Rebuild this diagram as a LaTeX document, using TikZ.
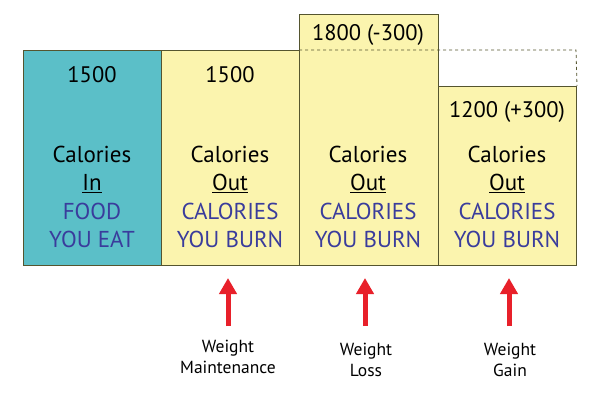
\documentclass[tikz,border=0pt]{standalone}
\usepackage{fontspec}
\setmainfont{PT Sans}
\usetikzlibrary{arrows.meta}
\definecolor{teal1}{HTML}{5BBFC8}
\definecolor{yel}{HTML}{FBF4AE}
\definecolor{edge}{HTML}{55552F}
\definecolor{blu}{HTML}{3A3C9C}
\definecolor{redarrow}{HTML}{E8202A}
\begin{document}
\begin{tikzpicture}[x=1pt,y=-1pt,
  box/.style={draw=edge, line width=1pt, anchor=north west, inner sep=0pt},
  num/.style={font=\fontsize{22.5}{26}\selectfont, text=black},
  stack/.style={font=\fontsize{23}{28.5}\selectfont, align=center, text=black},
  up/.style={draw=redarrow, line width=5pt, -{Triangle[width=17pt,length=16pt]}},
  lab/.style={font=\fontsize{17.5}{20.5}\selectfont, align=center}]
\useasboundingbox (0,0) rectangle (600,396);
\fill[white] (0,0) rectangle (600,396);
\node[box, fill=teal1, minimum width=138pt, minimum height=215pt] (b1) at (23,50) {};
\node[box, fill=yel, minimum width=138pt, minimum height=215pt] (b2) at (161,50) {};
\node[box, fill=yel, minimum width=139pt, minimum height=251pt] (b3) at (299,14) {};
\node[box, fill=yel, minimum width=138pt, minimum height=179pt] (b4) at (438,86) {};
\coordinate (d1) at (299,50);
\coordinate (d2) at (576,50);
\draw[edge, dashed, line width=0.8pt] (d1) -- (d2) -- (b4.north east);
\node[num] (n1) at (92,75) {1500};
\node[num] (n2) at (230,75) {1500};
\node[num] (n3) at (368,35) {1800 (-300)};
\node[num] (n4) at (507,112) {1200 (+300)};
\node[stack] (t1) at (92,197) {Calories\\\underline{In}\\\textcolor{blu}{FOOD}\\\textcolor{blu}{YOU EAT}};
\node[stack] (t2) at (230,197) {Calories\\\underline{Out}\\\textcolor{blu}{CALORIES}\\\textcolor{blu}{YOU BURN}};
\node[stack] (t3) at (368,197) {Calories\\\underline{Out}\\\textcolor{blu}{CALORIES}\\\textcolor{blu}{YOU BURN}};
\node[stack] (t4) at (507,197) {Calories\\\underline{Out}\\\textcolor{blu}{CALORIES}\\\textcolor{blu}{YOU BURN}};
\coordinate (a1s) at (228,326); \coordinate (a1e) at (228,278);
\coordinate (a2s) at (365,326); \coordinate (a2e) at (365,278);
\coordinate (a3s) at (509,326); \coordinate (a3e) at (509,278);
\draw[up] (a1s) -- (a1e);
\draw[up] (a2s) -- (a2e);
\draw[up] (a3s) -- (a3e);
\node[lab] (l1) at (228,357) {Weight\\Maintenance};
\node[lab] (l2) at (366,360) {Weight\\Loss};
\node[lab] (l3) at (510,360) {Weight\\Gain};
\end{tikzpicture}
\end{document}
